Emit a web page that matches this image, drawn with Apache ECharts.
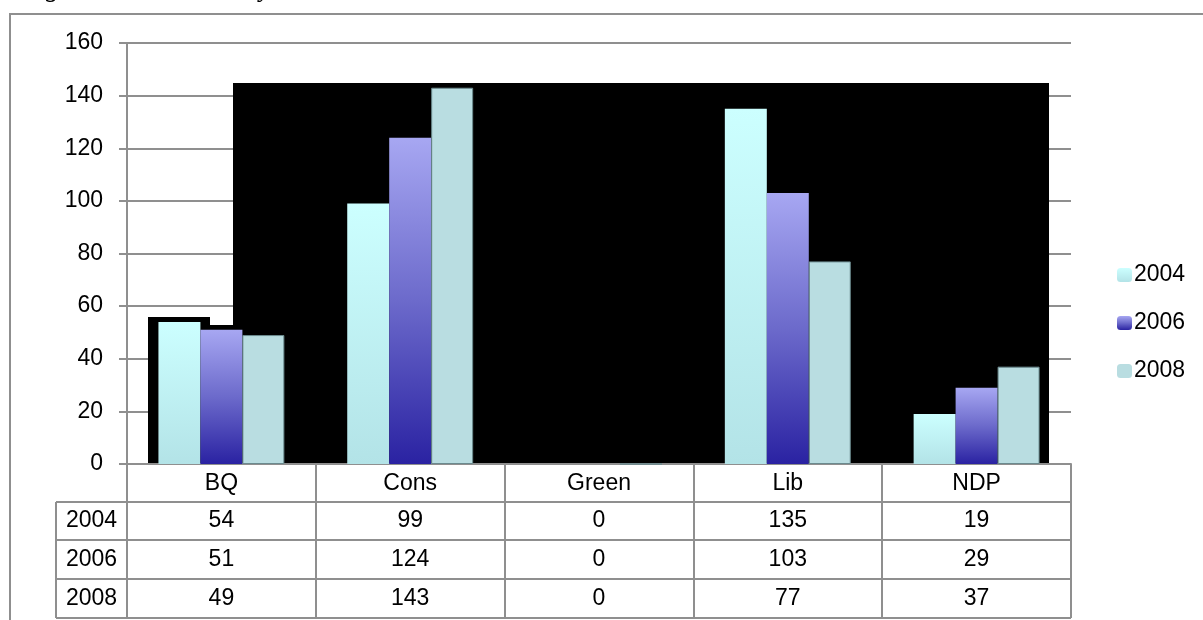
<!DOCTYPE html>
<html>
<head>
<meta charset="utf-8">
<script src="https://cdn.jsdelivr.net/npm/echarts@6/dist/echarts.min.js"></script>
<style>
html,body{margin:0;padding:0;background:#fff;}
#chart{width:1203px;height:620px;}
</style>
</head>
<body>
<div id="chart"></div>
<script>
// ---- data ----
const categories = ['BQ', 'Cons', 'Green', 'Lib', 'NDP'];
const years = ['2004', '2006', '2008'];
const seats2004 = [54, 99, 0, 135, 19];
const seats2006 = [51, 124, 0, 103, 29];
const seats2008 = [49, 143, 0, 77, 37];
const yMin = 0, yMax = 160, yStep = 20;

// ---- style ----
const FONT = 'Liberation Sans, Arial, sans-serif';
const FS = 23;
const GRAY = '#8f8f8f';
const G = {left: 127, top: 43, right: 1071, bottom: 464};
const rowTops = [502, 540, 579];
const rowBottom = 618;
const yearColLeft = 56;

const colors = [
  new echarts.graphic.LinearGradient(0, 0, 0, 1, [
    {offset: 0, color: '#ccffff'}, {offset: 1, color: '#b3e3e7'}]),
  new echarts.graphic.LinearGradient(0, 0, 0, 1, [
    {offset: 0, color: '#a7a7f2'}, {offset: 0.5, color: '#6c6acb'}, {offset: 1, color: '#2a22a2'}]),
  '#b9dde1'
];
const seriesData = [seats2004, seats2006, seats2008];

const chart = echarts.init(document.getElementById('chart'), null, {renderer: 'canvas'});

const option = {
  animation: false,
  backgroundColor: '#ffffff',
  textStyle: {fontFamily: FONT},
  grid: {left: G.left, top: G.top, width: G.right - G.left, height: G.bottom - G.top, containLabel: false},
  legend: {
    orient: 'vertical', left: 1112, top: 258,
    itemWidth: 15, itemHeight: 14, itemGap: 24,
    itemStyle: {borderWidth: 0},
    textStyle: {fontSize: FS, color: '#000', fontFamily: FONT, lineHeight: 24, padding: [0, 0, 0, -3]},
    data: years
  },
  xAxis: {
    type: 'category', data: categories,
    axisLine: {show: true, lineStyle: {color: GRAY, width: 2}},
    axisTick: {show: true, interval: 0, alignWithLabel: false, length: rowBottom - G.bottom, lineStyle: {color: GRAY, width: 2}},
    axisLabel: {fontSize: FS, color: '#000', fontFamily: FONT, margin: 8, interval: 0},
    splitLine: {show: false}
  },
  yAxis: {
    type: 'value', min: yMin, max: yMax, interval: yStep,
    axisLine: {show: true, lineStyle: {color: GRAY, width: 2}},
    axisTick: {show: true, length: 8, lineStyle: {color: GRAY, width: 2}},
    axisLabel: {fontSize: FS, color: '#000', fontFamily: FONT, margin: 24},
    splitLine: {show: true, lineStyle: {color: GRAY, width: 2}}
  },
  series: years.map((y, i) => ({
    name: y, type: 'bar', data: seriesData[i],
    barGap: '0%', barCategoryGap: '33.3%',
    itemStyle: i === 2
      ? {color: colors[i], borderColor: '#6b8a8e', borderWidth: 1}
      : {color: colors[i]},
    z: 3
  }))
};
chart.setOption(option);

// ---- decorations & data table (built from the arrays, positioned by the axis scale) ----
const els = [];
// outer frame
els.push({type: 'polyline', shape: {points: [[10, 620], [10, 14], [1203, 14]]}, style: {stroke: GRAY, lineWidth: 2, fill: null}, z: 0});
// caption, cut off at the top edge (only descenders remain visible)
els.push({type: 'text', x: 22, y: 2, style: {text: 'Figure 1: Seats won by each election', fontStyle: 'italic', fontSize: 27, fontFamily: 'Liberation Serif, Times New Roman, serif', fill: '#000', verticalAlign: 'bottom'}, z: 0});
// black background artefacts
els.push({type: 'rect', shape: {x: 233, y: 83, width: 1049 - 233, height: G.bottom - 1 - 83}, style: {fill: '#000'}, z: 1});
els.push({type: 'rect', shape: {x: 148, y: 317, width: 210 - 148, height: G.bottom - 1 - 317}, style: {fill: '#000'}, z: 1});
els.push({type: 'rect', shape: {x: 210, y: 325, width: 233 - 210, height: G.bottom - 1 - 325}, style: {fill: '#000'}, z: 1});
// table lines
rowTops.concat([rowBottom]).forEach(yy => {
  els.push({type: 'line', shape: {x1: yearColLeft, y1: yy, x2: G.right, y2: yy}, style: {stroke: GRAY, lineWidth: 2}, z: 2});
});
els.push({type: 'line', shape: {x1: yearColLeft, y1: rowTops[0], x2: yearColLeft, y2: rowBottom}, style: {stroke: GRAY, lineWidth: 2}, z: 2});
// row labels and cell values
const rowH = [rowTops[1] - rowTops[0], rowTops[2] - rowTops[1], rowBottom - rowTops[2]];
years.forEach((y, r) => {
  const cy = rowTops[r] + rowH[r] / 2;
  els.push({type: 'text', x: (yearColLeft + G.left) / 2, y: cy,
    style: {text: y, fontSize: FS, fontFamily: FONT, fill: '#000', align: 'center', verticalAlign: 'middle'}, z: 4});
  categories.forEach((c, k) => {
    const cx = chart.convertToPixel({xAxisIndex: 0}, k);
    els.push({type: 'text', x: cx, y: cy,
      style: {text: String(seriesData[r][k]), fontSize: FS, fontFamily: FONT, fill: '#000', align: 'center', verticalAlign: 'middle'}, z: 4});
  });
});
chart.setOption({graphic: {elements: els}});
</script>
</body>
</html>
